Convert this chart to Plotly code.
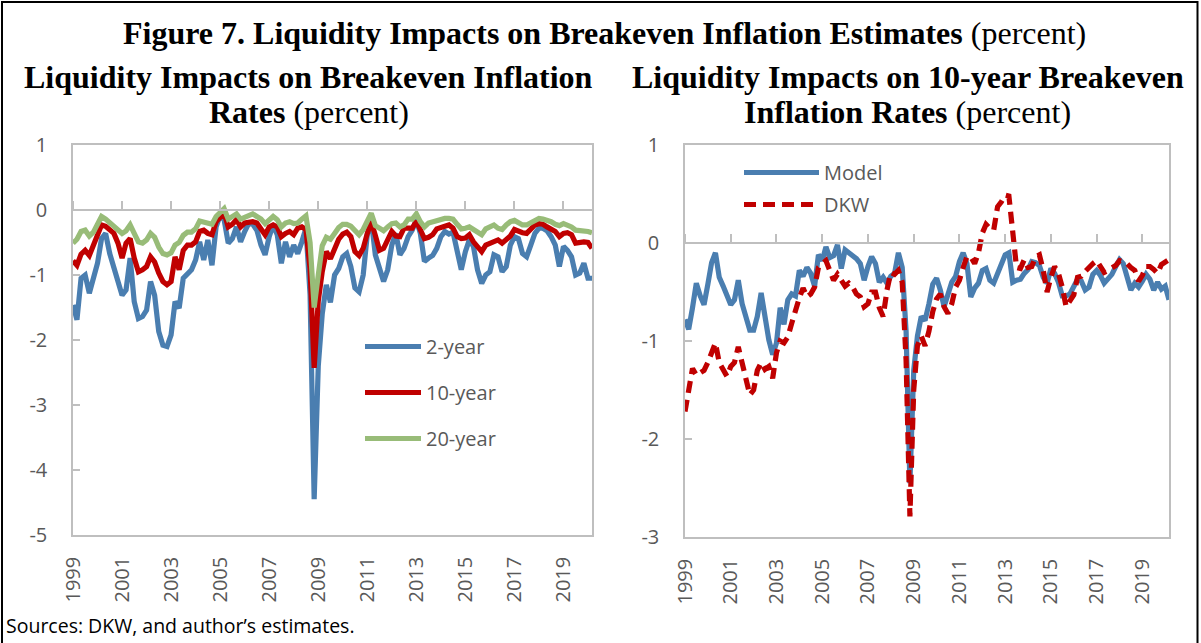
import pandas as pd
import plotly.graph_objects as go

# ---------------- data (bimonthly observations, Jan 1999 onward) ----------------
start_date = "1999-01-01"
n_obs = 128

two_year = [
    -1.46, -1.69, -1.05, -1.00, -1.28, -1.05, -0.82, -0.44, -0.36, -0.67,
    -0.87, -1.10, -1.31, -1.23, -0.74, -1.41, -1.67, -1.64, -1.54, -1.10,
    -1.31, -1.87, -2.08, -2.10, -1.92, -1.41, -1.51, -1.05, -0.97, -0.92,
    -0.77, -0.49, -0.77, -0.46, -0.85, -0.26, -0.08, -0.15, -0.51, -0.44,
    -0.26, -0.49, -0.33, -0.21, -0.22, -0.31, -0.54, -0.69, -0.41, -0.23,
    -0.38, -0.82, -0.49, -0.72, -0.54, -0.67, -0.49, -0.28, -1.30, -4.45,
    -2.40, -1.60, -1.15, -1.42, -1.00, -0.90, -0.72, -0.67, -0.87, -1.20,
    -1.26, -1.00, -0.38, -0.15, -0.69, -0.87, -1.10, -0.92, -0.54, -0.36,
    -0.69, -0.59, -0.41, -0.31, -0.15, -0.36, -0.79, -0.74, -0.70, -0.59,
    -0.41, -0.33, -0.37, -0.34, -0.67, -0.92, -0.64, -0.46, -0.56, -0.92,
    -1.13, -1.00, -0.95, -0.69, -0.72, -0.95, -0.87, -0.54, -0.41, -0.44,
    -0.67, -0.72, -0.54, -0.36, -0.28, -0.28, -0.32, -0.41, -0.54, -0.87,
    -0.56, -0.62, -0.72, -1.00, -0.97, -0.82, -1.05, -1.05,
]

ten_year = [
    -0.78, -0.85, -0.68, -0.62, -0.70, -0.54, -0.36, -0.23, -0.25, -0.30,
    -0.36, -0.51, -0.74, -0.51, -0.44, -0.74, -0.95, -0.92, -0.87, -0.72,
    -0.80, -0.97, -1.10, -1.15, -1.10, -0.72, -0.92, -0.62, -0.54, -0.54,
    -0.49, -0.33, -0.31, -0.36, -0.38, -0.18, -0.10, -0.05, -0.26, -0.22,
    -0.15, -0.26, -0.20, -0.18, -0.18, -0.20, -0.28, -0.38, -0.26, -0.23,
    -0.26, -0.41, -0.36, -0.33, -0.38, -0.28, -0.26, -0.30, -0.90, -2.43,
    -1.40, -0.95, -0.64, -0.75, -0.60, -0.45, -0.37, -0.34, -0.41, -0.64,
    -0.70, -0.59, -0.36, -0.18, -0.39, -0.62, -0.59, -0.46, -0.33, -0.40,
    -0.41, -0.28, -0.28, -0.28, -0.17, -0.33, -0.44, -0.42, -0.38, -0.29,
    -0.26, -0.25, -0.23, -0.28, -0.41, -0.44, -0.43, -0.38, -0.49, -0.56,
    -0.64, -0.54, -0.51, -0.48, -0.46, -0.51, -0.46, -0.40, -0.30, -0.33,
    -0.35, -0.36, -0.28, -0.23, -0.21, -0.22, -0.26, -0.30, -0.33, -0.41,
    -0.36, -0.35, -0.38, -0.51, -0.49, -0.49, -0.50, -0.59,
]

twenty_year = [
    -0.51, -0.45, -0.33, -0.31, -0.40, -0.34, -0.22, -0.10, -0.14, -0.20,
    -0.25, -0.30, -0.36, -0.32, -0.23, -0.36, -0.49, -0.51, -0.46, -0.36,
    -0.42, -0.57, -0.67, -0.69, -0.66, -0.54, -0.50, -0.39, -0.34, -0.34,
    -0.29, -0.17, -0.18, -0.20, -0.22, -0.10, -0.03, 0.02, -0.14, -0.11,
    -0.06, -0.14, -0.12, -0.08, -0.06, -0.10, -0.14, -0.21, -0.14, -0.10,
    -0.15, -0.26, -0.20, -0.18, -0.21, -0.20, -0.14, -0.09, -0.50, -1.50,
    -1.00, -0.55, -0.42, -0.45, -0.36, -0.27, -0.22, -0.22, -0.25, -0.33,
    -0.38, -0.30, -0.16, -0.05, -0.24, -0.28, -0.32, -0.26, -0.21, -0.20,
    -0.26, -0.23, -0.14, -0.14, -0.06, -0.18, -0.26, -0.20, -0.18, -0.15,
    -0.13, -0.13, -0.13, -0.14, -0.22, -0.29, -0.28, -0.26, -0.30, -0.33,
    -0.38, -0.29, -0.25, -0.23, -0.28, -0.30, -0.23, -0.18, -0.16, -0.20,
    -0.23, -0.23, -0.19, -0.15, -0.13, -0.14, -0.15, -0.18, -0.22, -0.24,
    -0.21, -0.23, -0.26, -0.31, -0.31, -0.31, -0.33, -0.35,
]

model_10y = [
    -0.78, -0.88, -0.66, -0.41, -0.54, -0.63, -0.42, -0.20, -0.10, -0.35,
    -0.44, -0.54, -0.63, -0.58, -0.38, -0.62, -0.78, -0.89, -0.89, -0.75,
    -0.51, -0.75, -0.99, -1.14, -1.02, -0.66, -0.83, -0.58, -0.52, -0.54,
    -0.28, -0.34, -0.25, -0.31, -0.44, -0.12, -0.18, -0.04, -0.15, -0.13,
    -0.02, -0.26, -0.07, -0.10, -0.13, -0.16, -0.21, -0.38, -0.24, -0.14,
    -0.21, -0.40, -0.35, -0.41, -0.34, -0.31, -0.10, -0.25, -0.90, -2.45,
    -1.30, -0.95, -0.75, -0.79, -0.62, -0.42, -0.36, -0.48, -0.65, -0.54,
    -0.40, -0.34, -0.19, -0.10, -0.21, -0.55, -0.46, -0.41, -0.28, -0.26,
    -0.38, -0.41, -0.31, -0.21, -0.12, -0.10, -0.40, -0.38, -0.37, -0.31,
    -0.27, -0.19, -0.20, -0.23, -0.35, -0.41, -0.26, -0.31, -0.40, -0.54,
    -0.54, -0.52, -0.44, -0.37, -0.39, -0.48, -0.45, -0.32, -0.28, -0.33,
    -0.41, -0.37, -0.32, -0.24, -0.17, -0.21, -0.33, -0.48, -0.41, -0.45,
    -0.39, -0.32, -0.37, -0.48, -0.40, -0.47, -0.44, -0.58,
]

dkw_10y = [
    -1.72, -1.50, -1.28, -1.35, -1.33, -1.30, -1.22, -1.10, -1.02, -1.22,
    -1.29, -1.36, -1.26, -1.22, -1.06, -1.24, -1.40, -1.55, -1.50, -1.30,
    -1.22, -1.29, -1.26, -1.38, -1.12, -1.00, -1.02, -0.96, -0.82, -0.68,
    -0.56, -0.46, -0.55, -0.52, -0.45, -0.25, -0.21, -0.18, -0.28, -0.38,
    -0.32, -0.38, -0.44, -0.41, -0.45, -0.52, -0.55, -0.65, -0.62, -0.50,
    -0.50, -0.66, -0.75, -0.48, -0.30, -0.32, -0.28, -0.40, -1.20, -2.79,
    -1.50, -1.05, -0.95, -1.05, -0.90, -0.70, -0.57, -0.52, -0.65, -0.72,
    -0.62, -0.45, -0.38, -0.25, -0.14, -0.14, -0.21, -0.10, 0.10, 0.19,
    0.15, 0.13, 0.37, 0.42, 0.49, 0.48, 0.10, -0.25, -0.26, -0.17,
    -0.25, -0.24, -0.14, -0.12, -0.28, -0.50, -0.35, -0.24, -0.31, -0.45,
    -0.65, -0.58, -0.53, -0.35, -0.34, -0.29, -0.24, -0.21, -0.18, -0.23,
    -0.30, -0.28, -0.25, -0.23, -0.18, -0.19, -0.21, -0.25, -0.28, -0.39,
    -0.33, -0.24, -0.24, -0.27, -0.31, -0.22, -0.19, -0.17,
]

tick_years = [1999, 2001, 2003, 2005, 2007, 2009, 2011, 2013, 2015, 2017, 2019]
left_yticks = [-5, -4, -3, -2, -1, 0, 1]
right_yticks = [-3, -2, -1, 0, 1]

dates = pd.date_range(start_date, periods=n_obs, freq="2MS")
tick_dates = [pd.Timestamp(f"{y}-01-01") for y in tick_years]
tick_text = [str(y) for y in tick_years]

# ---------------- styling ----------------
W, H = 1201, 643
BLUE = "#4A7EB0"
RED = "#C00000"
GREEN = "#98BC78"
GRAY = "#BFBFBF"
TXT = "#595959"
SANS = "Open Sans"
SERIF = "Liberation Serif"
TITLE_SIZE = 32
LW = 5.2

def px_x(p):
    return p / W

def px_y(p):
    return (H - p) / H

fig = go.Figure()

# left panel
fig.add_trace(go.Scatter(x=dates, y=two_year, name="2-year", mode="lines",
                         line=dict(color=BLUE, width=LW), xaxis="x", yaxis="y",
                         legend="legend", legendgroup="a"))
fig.add_trace(go.Scatter(x=dates, y=ten_year, name="10-year", mode="lines",
                         line=dict(color=RED, width=LW), xaxis="x", yaxis="y",
                         legend="legend", legendgroup="b"))
fig.add_trace(go.Scatter(x=dates, y=twenty_year, name="20-year", mode="lines",
                         line=dict(color=GREEN, width=LW), xaxis="x", yaxis="y",
                         legend="legend", legendgroup="c"))
# right panel
fig.add_trace(go.Scatter(x=dates, y=model_10y, name="Model", mode="lines",
                         line=dict(color=BLUE, width=LW), xaxis="x2", yaxis="y2",
                         legend="legend2", legendgroup="d"))
fig.add_trace(go.Scatter(x=dates, y=dkw_10y, name="DKW", mode="lines",
                         line=dict(color=RED, width=LW, dash="12px,7px"),
                         xaxis="x2", yaxis="y2", legend="legend2", legendgroup="e"))
# helper traces so the zero-line category axes are drawn
fig.add_trace(go.Scatter(x=[dates[0]], y=[None], xaxis="x3", yaxis="y",
                         showlegend=False, hoverinfo="skip"))
fig.add_trace(go.Scatter(x=[dates[0]], y=[None], xaxis="x4", yaxis="y2",
                         showlegend=False, hoverinfo="skip"))

left_dom_x = [px_x(73), px_x(592)]
left_dom_y = [px_y(535), px_y(145)]
right_dom_x = [px_x(685), px_x(1169)]
right_dom_y = [px_y(537), px_y(145)]

xrange_ = [dates[0], dates[-1]]

bottom_x = dict(type="date", range=xrange_, tickvals=tick_dates, ticktext=tick_text,
                tickangle=-90, ticks="", showline=True, mirror=True, linecolor=GRAY,
                linewidth=1.5, showgrid=False, zeroline=False, automargin=False,
                tickfont=dict(family=SANS, size=20, color=TXT), ticklabelstandoff=12)

zero_x = dict(type="date", side="top", anchor="free", showticklabels=False,
              tickvals=tick_dates, ticks="outside", ticklen=8, tickwidth=1.5,
              tickcolor=GRAY, showline=True, linecolor=GRAY, linewidth=1.5,
              showgrid=False, zeroline=False, automargin=False)

y_common = dict(ticks="inside", ticklen=7, tickwidth=1.5, tickcolor=GRAY,
                showline=True, mirror=True, linecolor=GRAY, linewidth=1.5,
                showgrid=False, zeroline=False, automargin=False,
                tickfont=dict(family=SANS, size=20, color=TXT), ticklabelstandoff=20)

title_font = dict(family=SERIF, size=TITLE_SIZE, color="black")

def title_line(x, y, text):
    return dict(xref="paper", yref="paper", x=px_x(x), y=px_y(y), xanchor="center",
                yanchor="middle", showarrow=False, text=text, font=title_font)

fig.update_layout(
    template="none",
    width=W, height=H,
    margin=dict(l=0, r=0, t=0, b=0, pad=0, autoexpand=False),
    paper_bgcolor="white", plot_bgcolor="white",
    xaxis=dict(domain=left_dom_x, anchor="y", **bottom_x),
    yaxis=dict(domain=left_dom_y, anchor="x", range=[-5, 1], tickvals=left_yticks,
               ticktext=[str(v) for v in left_yticks], **y_common),
    xaxis2=dict(domain=right_dom_x, anchor="y2", **bottom_x),
    yaxis2=dict(domain=right_dom_y, anchor="x2", range=[-3, 1], tickvals=right_yticks,
                ticktext=[str(v) for v in right_yticks], **y_common),
    xaxis3=dict(overlaying="x", matches="x", domain=left_dom_x,
                position=left_dom_y[0] + (left_dom_y[1] - left_dom_y[0]) * (5 / 6), **zero_x),
    xaxis4=dict(overlaying="x2", matches="x2", domain=right_dom_x,
                position=right_dom_y[0] + (right_dom_y[1] - right_dom_y[0]) * (3 / 4), **zero_x),
    legend=dict(x=px_x(360), y=px_y(327), xanchor="left", yanchor="top",
                bgcolor="rgba(0,0,0,0)", font=dict(family=SANS, size=20, color=TXT),
                itemwidth=56, traceorder="grouped", tracegroupgap=17),
    legend2=dict(x=px_x(739), y=px_y(153), xanchor="left", yanchor="top",
                 bgcolor="rgba(0,0,0,0)", font=dict(family=SANS, size=20, color=TXT),
                 itemwidth=75, traceorder="grouped", tracegroupgap=3),
    showlegend=True,
    shapes=[dict(type="rect", xref="paper", yref="paper",
                 x0=px_x(2), x1=px_x(1197.5), y0=-0.02, y1=px_y(2),
                 line=dict(color="black", width=2))],
    annotations=[
        title_line(604, 33, "<b>Figure 7. Liquidity Impacts on Breakeven Inflation Estimates</b> (percent)"),
        title_line(308, 77, "<b>Liquidity Impacts on Breakeven Inflation</b>"),
        title_line(309, 112, "<b>Rates</b> (percent)"),
        title_line(907.5, 77, "<b>Liquidity Impacts on 10-year Breakeven</b>"),
        title_line(907.5, 112, "<b>Inflation Rates</b> (percent)"),
        dict(xref="paper", yref="paper", x=px_x(4), y=px_y(625), xanchor="left",
             yanchor="middle", showarrow=False,
             text="Sources: DKW, and author\u2019s estimates.",
             font=dict(family=SANS, size=19.5, color="black")),
    ],
)

fig.write_html("out.html",
               config={"displayModeBar": False},
               post_script="document.body.style.margin='0px';"
                           "document.body.style.overflow='hidden';")
